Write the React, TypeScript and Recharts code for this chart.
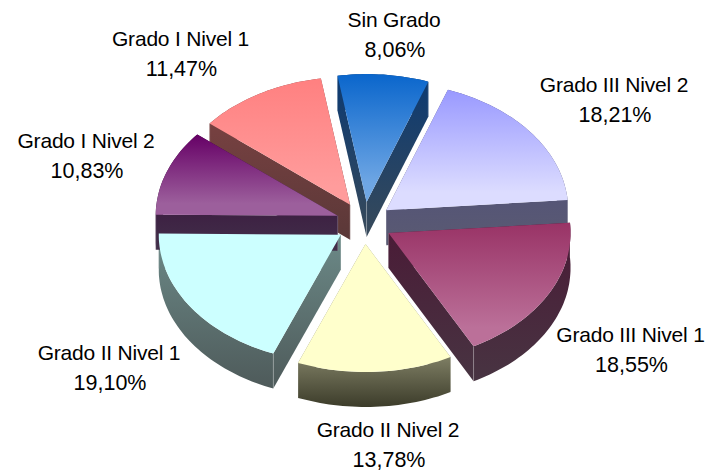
import { Pie, PieChart } from "recharts";

// listed from the back of the pie so that walls stack correctly
const categories = [
  "Grado I Nivel 1",
  "Sin Grado",
  "Grado III Nivel 2",
  "Grado III Nivel 1",
  "Grado II Nivel 2",
  "Grado II Nivel 1",
  "Grado I Nivel 2",
];
const shares = [11.47, 8.06, 18.21, 18.55, 13.78, 19.1, 10.83];

const topFrom = ["#ff8080", "#0a66cc", "#9999ff", "#993366", "#ffffcc", "#ccffff", "#660066"];
const topTo = ["#ff9c9c", "#6ea6e4", "#dcdcff", "#bb7099", "#ffffcc", "#ccffff", "#9c5f9c"];
const wallFrom = ["#824444", "#0c3a72", "#4a4a80", "#4a1a36", "#85856a", "#6c8a88", "#330033"];
const wallTo = ["#5a3838", "#384a5a", "#5a5a72", "#483442", "#3c3c2a", "#4e5a5a", "#42304a"];
const wallOffset = [0, 0, 0, 0, 0.66, 0, 0];

const labelPos = [
  [180.5, 46],
  [394, 27],
  [614, 92],
  [630.5, 342],
  [388, 437],
  [109, 360],
  [86, 148],
];

const CX = 364;
const CY = 223;
const RX = 182;
const RY = 128;
const EXPLODE_X = 28;
const EXPLODE_Y = 21;
const DEPTH = 35;
const START = 140.5;

const data = categories.map((name, i) => ({ name, value: shares[i] }));

function sliceGeometry(props: any) {
  const rad = Math.PI / 180;
  const { startAngle, endAngle } = props;
  const mid = ((startAngle + endAngle) / 2) * rad;
  const ax = props.cx + EXPLODE_X * Math.cos(mid);
  const ay = props.cy - EXPLODE_Y * Math.sin(mid);
  const ratio = RY / props.outerRadius;
  const rim: number[][] = [];
  const steps = Math.ceil(Math.abs(startAngle - endAngle) / 1.5);
  for (let s = 0; s <= steps; s++) {
    const a = (startAngle + ((endAngle - startAngle) * s) / steps) * rad;
    rim.push([ax + props.outerRadius * Math.cos(a), ay - props.outerRadius * ratio * Math.sin(a)]);
  }
  return { ax, ay, rim };
}

const toPath = (pts: number[][]) =>
  "M" + pts.map((p) => p[0].toFixed(1) + " " + p[1].toFixed(1)).join("L") + "Z";

function WallShape(props: any) {
  const { ax, ay, rim } = sliceGeometry(props);
  const i = props.index;
  const ys = [ay, ...rim.map((p) => p[1])];
  const down = (p: number[]) => [p[0], p[1] + DEPTH];
  const first = rim[0];
  const last = rim[rim.length - 1];
  const paint = `url(#wall-${i})`;
  return (
    <g>
      <defs>
        <linearGradient
          id={`wall-${i}`}
          gradientUnits="userSpaceOnUse"
          x1="0"
          x2="0"
          y1={Math.min(...ys)}
          y2={Math.max(...ys) + DEPTH}
        >
          <stop offset={wallOffset[i]} stopColor={wallFrom[i]} />
          <stop offset="1" stopColor={wallTo[i]} />
        </linearGradient>
      </defs>
      <path d={toPath([...rim, ...[...rim].reverse().map(down)])} fill={paint} />
      <path d={toPath([[ax, ay], first, down(first), [ax, ay + DEPTH]])} fill={paint} />
      <path d={toPath([[ax, ay], last, down(last), [ax, ay + DEPTH]])} fill={paint} />
      <path
        d={`M${ax} ${ay}V${ay + DEPTH}M${first[0]} ${first[1]}V${first[1] + DEPTH}M${last[0]} ${last[1]}V${last[1] + DEPTH}`}
        stroke="#ffffff"
        strokeOpacity={0.22}
        fill="none"
      />
    </g>
  );
}

function TopShape(props: any) {
  const { ax, ay, rim } = sliceGeometry(props);
  const i = props.index;
  return (
    <g>
      <defs>
        <linearGradient id={`top-${i}`} x1="0" x2="0" y1="0" y2="1">
          <stop offset="0" stopColor={topFrom[i]} />
          <stop offset="0.85" stopColor={topTo[i]} />
        </linearGradient>
      </defs>
      <path d={toPath([[ax, ay], ...rim])} fill={`url(#top-${i})`} />
    </g>
  );
}

function renderLabel(props: any) {
  const [x, y] = labelPos[props.index];
  return (
    <text key={props.index} textAnchor="middle" fontFamily="Liberation Sans" fill="#000000">
      <tspan x={x} y={y} fontSize={21} letterSpacing={-0.2}>
        {categories[props.index]}
      </tspan>
      <tspan x={x + 1} y={y + 30} fontSize={21.5}>
        {shares[props.index].toFixed(2).replace(".", ",")}%
      </tspan>
    </text>
  );
}

export default function App() {
  return (
    <div style={{ position: "absolute", left: 0, top: 0, width: 706, height: 471, background: "#ffffff" }}>
      <PieChart width={706} height={471} margin={{ top: 0, right: 0, bottom: 0, left: 0 }}>
        <Pie
          data={data}
          dataKey="value"
          nameKey="name"
          cx={CX}
          cy={CY}
          outerRadius={RX}
          startAngle={START}
          endAngle={START - 360}
          paddingAngle={0}
          stroke="none"
          shape={WallShape}
          isAnimationActive={false}
        />
        <Pie
          data={data}
          dataKey="value"
          nameKey="name"
          cx={CX}
          cy={CY}
          outerRadius={RX}
          startAngle={START}
          endAngle={START - 360}
          paddingAngle={0}
          stroke="none"
          shape={TopShape}
          label={renderLabel}
          labelLine={false}
          isAnimationActive={false}
        />
      </PieChart>
    </div>
  );
}
